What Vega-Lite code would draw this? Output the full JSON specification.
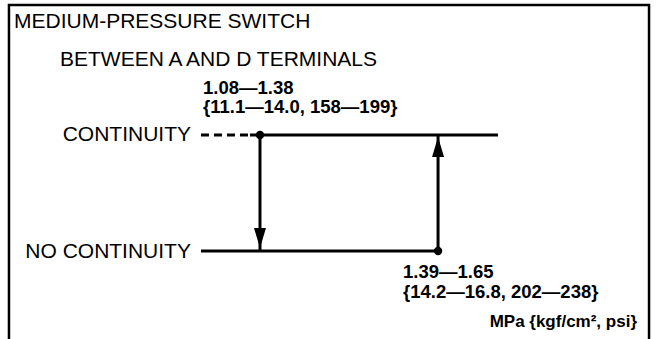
{
  "$schema": "https://vega.github.io/schema/vega-lite/v6.json",
  "width": 658,
  "height": 339,
  "autosize": "none",
  "padding": 0,
  "config": {"view": {"stroke": null}, "text": {"font": "Liberation Sans", "color": "#000"}},
  "datasets": {
    "frame": [
      {"p": 0.8212, "s": -0.85, "o": 1},
      {"p": 0.8212, "s": 2.1207, "o": 2},
      {"p": 1.8636, "s": 2.1207, "o": 3},
      {"p": 1.8636, "s": -0.85, "o": 4}
    ],
    "solid": [
      {"p": 1.2137, "p2": 1.6176, "s": 1, "s2": 1},
      {"p": 1.23, "p2": 1.23, "s": 1, "s2": 0},
      {"p": 1.1339, "p2": 1.52, "s": 0, "s2": 0},
      {"p": 1.52, "p2": 1.52, "s": 0, "s2": 1}
    ],
    "dashed": [
      {"p": 1.1339, "p2": 1.2137, "s": 1, "s2": 1}
    ],
    "points": [
      {"p": 1.23, "s": 1},
      {"p": 1.52, "s": 0}
    ],
    "arrowDown": [{"p": 1.23, "s": 0.1121}],
    "arrowUp": [{"p": 1.52, "s": 0.8966}],
    "headings": [
      {"p": 0.8294, "s": 1.9224, "label": "MEDIUM-PRESSURE SWITCH"},
      {"p": 0.9043, "s": 1.5948, "label": "BETWEEN A AND D TERMINALS"}
    ],
    "states": [
      {"p": 1.1176, "s": 0.9483, "label": "CONTINUITY"},
      {"p": 1.1176, "s": -0.0603, "label": "NO CONTINUITY"}
    ],
    "values": [
      {"p": 1.1372, "s": 1.3534, "label": "1.08—1.38"},
      {"p": 1.1372, "s": 1.1897, "label": "{11.1—14.0, 158—199}"},
      {"p": 1.4629, "s": -0.2328, "label": "1.39—1.65"},
      {"p": 1.4629, "s": -0.4052, "label": "{14.2—16.8, 202—238}"}
    ],
    "unit": [
      {"p": 1.844, "s": -0.6552, "label": "MPa {kgf/cm², psi}"}
    ]
  },
  "layer": [
    {
      "data": {"name": "frame"},
      "mark": {"type": "line", "stroke": "#000", "strokeWidth": 2.5, "strokeJoin": "miter"},
      "encoding": {
        "x": {"field": "p", "type": "quantitative", "scale": {"domain": [0.8066, 1.8782], "nice": false, "zero": false}, "axis": null},
        "y": {"field": "s", "type": "quantitative", "scale": {"domain": [-0.75862, 2.16379], "nice": false, "zero": false}, "axis": null},
        "order": {"field": "o", "type": "quantitative"}
      }
    },
    {
      "data": {"name": "dashed"},
      "mark": {"type": "rule", "stroke": "#000", "strokeWidth": 3, "strokeDash": [8, 5]},
      "encoding": {
        "x": {"field": "p", "type": "quantitative"},
        "x2": {"field": "p2"},
        "y": {"field": "s", "type": "quantitative"},
        "y2": {"field": "s2"}
      }
    },
    {
      "data": {"name": "solid"},
      "mark": {"type": "rule", "stroke": "#000", "strokeWidth": 3},
      "encoding": {
        "x": {"field": "p", "type": "quantitative"},
        "x2": {"field": "p2"},
        "y": {"field": "s", "type": "quantitative"},
        "y2": {"field": "s2"}
      }
    },
    {
      "data": {"name": "points"},
      "mark": {"type": "point", "shape": "circle", "filled": true, "color": "#000", "opacity": 1, "size": 70},
      "encoding": {
        "x": {"field": "p", "type": "quantitative"},
        "y": {"field": "s", "type": "quantitative"}
      }
    },
    {
      "data": {"name": "arrowDown"},
      "mark": {"type": "point", "shape": "M-0.6,-1L0.6,-1L0,1Z", "filled": true, "color": "#000", "opacity": 1, "size": 400},
      "encoding": {
        "x": {"field": "p", "type": "quantitative"},
        "y": {"field": "s", "type": "quantitative"}
      }
    },
    {
      "data": {"name": "arrowUp"},
      "mark": {"type": "point", "shape": "M-0.6,1L0.6,1L0,-1Z", "filled": true, "color": "#000", "opacity": 1, "size": 400},
      "encoding": {
        "x": {"field": "p", "type": "quantitative"},
        "y": {"field": "s", "type": "quantitative"}
      }
    },
    {
      "data": {"name": "headings"},
      "mark": {"type": "text", "align": "left", "baseline": "alphabetic", "fontSize": 21},
      "encoding": {
        "x": {"field": "p", "type": "quantitative"},
        "y": {"field": "s", "type": "quantitative"},
        "text": {"field": "label"}
      }
    },
    {
      "data": {"name": "states"},
      "mark": {"type": "text", "align": "right", "baseline": "alphabetic", "fontSize": 21},
      "encoding": {
        "x": {"field": "p", "type": "quantitative"},
        "y": {"field": "s", "type": "quantitative"},
        "text": {"field": "label"}
      }
    },
    {
      "data": {"name": "values"},
      "mark": {"type": "text", "align": "left", "baseline": "alphabetic", "fontSize": 18.5, "fontWeight": "bold"},
      "encoding": {
        "x": {"field": "p", "type": "quantitative"},
        "y": {"field": "s", "type": "quantitative"},
        "text": {"field": "label"}
      }
    },
    {
      "data": {"name": "unit"},
      "mark": {"type": "text", "align": "right", "baseline": "alphabetic", "fontSize": 17, "fontWeight": "bold"},
      "encoding": {
        "x": {"field": "p", "type": "quantitative"},
        "y": {"field": "s", "type": "quantitative"},
        "text": {"field": "label"}
      }
    }
  ]
}
